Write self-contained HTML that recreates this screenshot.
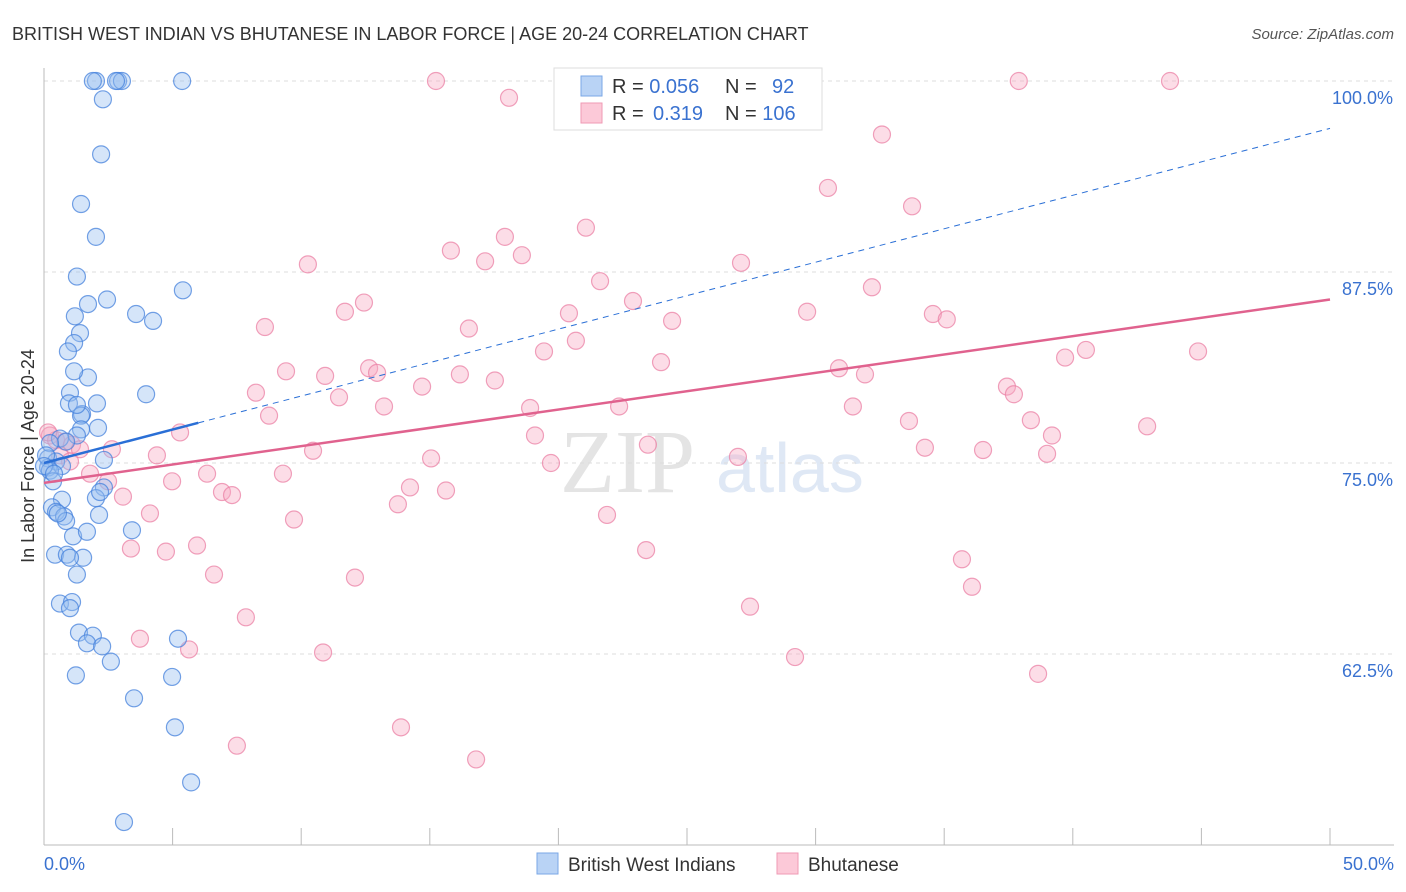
<!DOCTYPE html>
<html><head><meta charset="utf-8"><style>
body{margin:0;background:#fff;font-family:"Liberation Sans",sans-serif;}
svg{display:block}
</style></head><body>
<svg id="chart" width="1406" height="892" xmlns="http://www.w3.org/2000/svg">
<text x="12" y="40" font-size="18" fill="#333">BRITISH WEST INDIAN VS BHUTANESE IN LABOR FORCE | AGE 20-24 CORRELATION CHART</text>
<text x="1394" y="39" font-size="15" fill="#555" font-style="italic" text-anchor="end">Source: ZipAtlas.com</text>
<text x="560" y="492" font-size="90" fill="#e4e4e4" font-family="Liberation Serif">ZIP</text>
<text x="716" y="492" font-size="70" fill="#dfe8f5">atlas</text>
<g id="grid"></g><g id="axes"></g><g id="pts"></g><g id="trend"></g>
<text transform="translate(34,456) rotate(-90)" font-size="18" fill="#333" text-anchor="middle">In Labor Force | Age 20-24</text>
<g>
<rect x="554" y="68" width="268" height="62" fill="#fff" stroke="#ddd"/>
<rect x="581" y="76" width="21" height="20" fill="#b9d3f5" stroke="#7aa7e6"/>
<rect x="581" y="103" width="21" height="20" fill="#fcc9d8" stroke="#ef9ab4"/>
<text x="612" y="93" font-size="20" fill="#333">R = <tspan fill="#3a72d0">0.056</tspan></text>
<text x="725" y="93" font-size="20" fill="#333">N = <tspan x="772" fill="#3a72d0">92</tspan></text>
<text x="612" y="120" font-size="20" fill="#333">R = <tspan x="653" fill="#3a72d0">0.319</tspan></text>
<text x="725" y="120" font-size="20" fill="#333">N = <tspan fill="#3a72d0">106</tspan></text>
</g>
<g>
<rect x="537" y="853" width="21" height="21" fill="#b9d3f5" stroke="#7aa7e6"/>
<text x="568" y="871" font-size="19" fill="#333">British West Indians</text>
<rect x="777" y="853" width="21" height="21" fill="#fcc9d8" stroke="#ef9ab4"/>
<text x="808" y="871" font-size="19" fill="#333">Bhutanese</text>
</g>
</svg>
<script>
const blueX=[2.02,1.9,2.88,3.03,2.8,5.37,2.29,2.22,1.44,2.02,1.28,5.4,2.45,1.71,1.2,3.58,4.24,1.4,1.17,0.93,1.71,1.17,3.97,1.01,0.97,2.06,1.48,1.44,1.28,2.1,1.44,1.28,0.62,0.86,0.23,2.33,0.16,0.47,0.16,0.7,0.23,0.35,2.33,2.02,0.7,0.31,0.47,0.78,0.86,2.14,0.54,1.13,1.67,3.42,0.43,0.89,1.52,1.01,1.28,0.62,1.09,1.01,1.36,1.9,1.67,2.26,5.21,2.6,1.24,4.98,3.5,5.09,5.72,3.11,0.08,0.0,0.39,2.18];
const blueY=[100,100,100,100,100,100,98.8,95.2,91.95,89.8,87.2,86.3,85.7,85.4,84.6,84.75,84.3,83.5,82.85,82.3,80.6,81.0,79.5,79.6,78.9,78.9,78.2,78.1,78.8,77.3,77.2,76.8,76.6,76.4,76.3,75.2,75.3,75.1,74.7,74.8,74.5,73.8,73.4,72.7,72.6,72.1,71.8,71.5,71.2,71.6,71.7,70.2,70.5,70.6,69.0,69.0,68.8,68.8,67.7,65.8,65.9,65.5,63.9,63.7,63.2,63.0,63.5,62.0,61.1,61.0,59.6,57.7,54.1,51.5,75.5,74.8,74.3,73.1];
const pinkX=[15.24,37.9,43.78,18.08,32.58,30.48,33.75,21.07,17.92,15.82,18.58,17.15,10.26,27.1,21.62,32.19,22.9,12.44,20.41,11.7,29.67,34.56,35.1,24.42,8.59,16.52,20.68,19.44,40.51,44.87,39.7,23.99,12.64,30.91,12.95,31.92,9.41,10.93,16.17,17.53,8.24,37.44,14.7,11.47,37.71,13.22,18.9,22.36,31.45,8.75,33.63,38.37,42.89,5.29,39.19,19.09,23.48,10.46,34.25,36.51,39.0,4.39,15.05,26.98,19.71,6.34,1.79,4.98,9.29,2.49,14.23,6.92,7.31,3.07,15.63,13.76,4.12,9.72,21.89,3.38,4.74,5.95,23.41,35.69,6.61,12.09,36.08,27.45,7.85,3.73,5.64,10.85,29.2,38.65,7.5,13.88,16.8,0.23,0.47,0.82,1.09,1.4,0.62,1.01,0.16,2.64];
const pinkY=[100,100,100,98.9,96.5,93.0,91.8,90.4,89.8,88.9,88.6,88.2,88.0,88.1,86.9,86.5,85.6,85.5,84.8,84.9,84.9,84.75,84.4,84.3,83.9,83.8,83.0,82.3,82.4,82.3,81.9,81.6,81.2,81.2,80.9,80.8,81.0,80.7,80.8,80.4,79.6,80.0,80.0,79.3,79.5,78.7,78.6,78.7,78.7,78.1,77.75,77.8,77.4,77.0,76.8,76.8,76.2,75.8,76.0,75.85,75.6,75.5,75.3,75.4,75.0,74.3,74.3,73.8,74.3,73.8,73.4,73.1,72.9,72.8,73.2,72.3,71.7,71.3,71.6,69.4,69.2,69.6,69.3,68.7,67.7,67.5,66.9,65.6,64.9,63.5,62.8,62.6,62.3,61.2,56.5,57.7,55.6,76.8,76.5,76.4,76.2,75.9,75.5,75.1,77.0,75.9];
const yTicks=[100,87.5,75,62.5];
const yTickLabels=["100.0%","87.5%","75.0%","62.5%"];
const blueTrend=[75.0,96.9];
const pinkTrend=[73.7,85.7];
const X=v=>44+v*25.72, Y=v=>272+(87.5-v)*15.28;
const NS="http://www.w3.org/2000/svg";
function mk(p,t,a){const e=document.createElementNS(NS,t);for(const k in a)e.setAttribute(k,a[k]);document.getElementById(p).appendChild(e);return e;}
yTicks.forEach((t,i)=>{
 const l=mk('grid','line',{x1:44,x2:1394,y1:Y(t),y2:Y(t),stroke:'#ddd','stroke-dasharray':'4,4'});
 
 
 const tx=mk('grid','text',{x:1393,y:Y(t)+23,'font-size':18,fill:'#3a72d0','text-anchor':'end'});
 tx.textContent=yTickLabels[i];
 
 
});
const ax=mk('axes','line',{x1:44,x2:44,y1:68,y2:845,stroke:'#bbb'});


const bx=mk('axes','line',{x1:44,x2:1394,y1:845,y2:845,stroke:'#bbb'});


for(let i=0;i<=10;i++){const t=mk('axes','line',{x1:X(i*5),x2:X(i*5),y1:828,y2:845,stroke:'#bbb'});
 
 }
const xl0=mk('axes','text',{x:44,y:870,'font-size':18,fill:'#3a72d0'});xl0.textContent='0.0%';


const xl1=mk('axes','text',{x:1394,y:870,'font-size':18,fill:'#3a72d0','text-anchor':'end'});xl1.textContent='50.0%';


pinkX.forEach((v,i)=>{const c=mk('pts','circle',{cx:X(v),cy:Y(pinkY[i]),r:8.5,fill:'rgba(248,170,195,0.4)',stroke:'rgba(235,130,165,0.75)','stroke-width':1.2});
 
 });
blueX.forEach((v,i)=>{const c=mk('pts','circle',{cx:X(v),cy:Y(blueY[i]),r:8.5,fill:'rgba(150,190,240,0.4)',stroke:'rgba(70,130,220,0.75)','stroke-width':1.2});
 
 });
const by=x=>blueTrend[0]+(blueTrend[1]-blueTrend[0])*x/50;
const t1=mk('trend','line',{x1:X(0),y1:Y(by(0)),x2:X(6),y2:Y(by(6)),stroke:'#2a6fd6','stroke-width':2.5});


const t2=mk('trend','line',{x1:X(6),y1:Y(by(6)),x2:X(50),y2:Y(by(50)),stroke:'#2a6fd6','stroke-width':1,'stroke-dasharray':'6,5'});


const t3=mk('trend','line',{x1:X(0),y1:Y(pinkTrend[0]),x2:X(50),y2:Y(pinkTrend[1]),stroke:'#e0628e','stroke-width':2.5});


</script>
</body></html>
